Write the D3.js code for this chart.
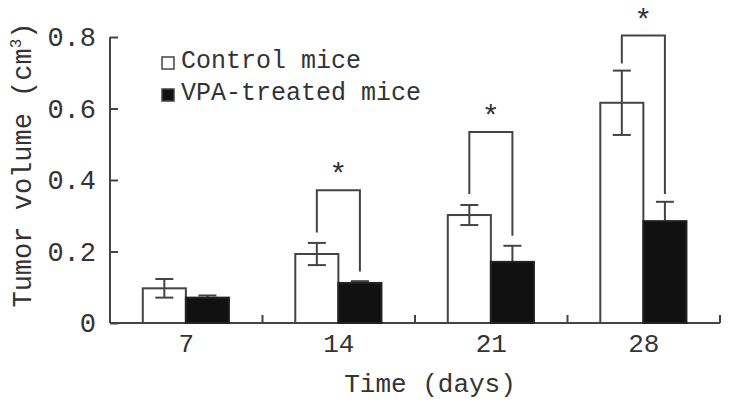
<!DOCTYPE html>
<html>
<head>
<meta charset="utf-8">
<script src="https://cdn.jsdelivr.net/npm/d3@7"></script>
<style>
  body { margin: 0; background: #fff; }
  text { font-family: "Liberation Mono", "DejaVu Sans Mono", monospace; fill: #333; }
</style>
</head>
<body>
<div id="chart"></div>
<script>
// chart values
var days = ["7", "14", "21", "28"];
var groups = ["Control mice", "VPA-treated mice"];
var controlMean = [0.097, 0.193, 0.302, 0.616];
var controlErr = [0.026, 0.031, 0.028, 0.090];
var vpaMean = [0.071, 0.112, 0.171, 0.285];
var vpaErr = [0.006, 0.005, 0.045, 0.054];
var yTicks = [0, 0.2, 0.4, 0.6, 0.8];
// significance brackets: [top, left leg end, right leg end]
var sigDays = ["14", "21", "28"];
var sigTop = [0.371, 0.534, 0.804];
var sigLeft = [0.253, 0.361, 0.726];
var sigRight = [0.144, 0.244, 0.361];

var width = 729, height = 406;
var padL = 110, padR = 720, padT = 37, padB = 323;

var svg = d3.select("#chart").append("svg")
  .attr("width", width)
  .attr("height", height);

var x = d3.scaleBand().domain(days).range([padL, padR]).padding(0);
var xs = d3.scaleBand().domain(groups)
  .range([x.bandwidth() * 0.215, x.bandwidth() * 0.78]).padding(0);
var y = d3.scaleLinear().domain([0, 0.8]).range([padB, padT]);

var axisColor = "#444";

// y axis
var yAxis = svg.append("g")
  .attr("transform", "translate(" + padL + ",0)")
  .call(d3.axisRight(y).tickValues(yTicks).tickSize(8).tickFormat(""));
yAxis.select(".domain").attr("d", "M0," + y(0.8) + "V" + y(0));
yAxis.selectAll("line, path").attr("stroke", axisColor).attr("stroke-width", 2);

svg.selectAll(".ytl")
  .data(yTicks)
  .enter().append("text")
  .attr("class", "ytl")
  .attr("x", padL - 14)
  .attr("y", function(d) { return y(d) + 9; })
  .attr("text-anchor", "end")
  .style("font-size", "27px")
  .text(function(d) { return d === 0 ? "0" : d.toFixed(1); });

// x axis line and boundary ticks
var bounds = days.map(function(d) { return x(d) + x.bandwidth(); });
svg.append("line")
  .attr("x1", padL).attr("x2", padR)
  .attr("y1", y(0)).attr("y2", y(0))
  .attr("stroke", axisColor).attr("stroke-width", 2);
svg.selectAll(".xtick")
  .data(bounds)
  .enter().append("line")
  .attr("x1", function(d) { return d; })
  .attr("x2", function(d) { return d; })
  .attr("y1", y(0)).attr("y2", y(0) - 8)
  .attr("stroke", axisColor).attr("stroke-width", 2);

svg.selectAll(".xtl")
  .data(days)
  .enter().append("text")
  .attr("x", function(d) { return x(d) + x.bandwidth() / 2; })
  .attr("y", 352)
  .attr("text-anchor", "middle")
  .style("font-size", "26px")
  .text(function(d) { return d; });

// bars
var rows = [];
days.forEach(function(d, i) {
  rows.push({ day: d, g: groups[0], v: controlMean[i], e: controlErr[i] });
  rows.push({ day: d, g: groups[1], v: vpaMean[i], e: vpaErr[i] });
});

var capW = 18;

// error bars (drawn first so VPA bar hides the lower half)
rows.forEach(function(r) {
  var cx = x(r.day) + xs(r.g) + xs.bandwidth() / 2;
  var lo = r.v - r.e, hi = r.v + r.e;
  var eg = svg.append("g").attr("stroke", axisColor).attr("stroke-width", 2);
  eg.append("line").attr("x1", cx).attr("x2", cx).attr("y1", y(lo)).attr("y2", y(hi));
  eg.append("line").attr("x1", cx - capW / 2).attr("x2", cx + capW / 2).attr("y1", y(hi)).attr("y2", y(hi));
  eg.append("line").attr("x1", cx - capW / 2).attr("x2", cx + capW / 2).attr("y1", y(lo)).attr("y2", y(lo));
});

svg.selectAll(".bar")
  .data(rows)
  .enter().append("rect")
  .attr("x", function(d) { return x(d.day) + xs(d.g); })
  .attr("y", function(d) { return y(d.v); })
  .attr("width", xs.bandwidth())
  .attr("height", function(d) { return y(0) - y(d.v); })
  .attr("fill", function(d) { return d.g === groups[0] ? "none" : "#111"; })
  .attr("stroke", function(d) { return d.g === groups[0] ? axisColor : "#222"; })
  .attr("stroke-width", 2);

// significance brackets
sigDays.forEach(function(d, i) {
  var lx = x(d) + xs(groups[0]) + xs.bandwidth() / 2;
  var rx = x(d) + xs(groups[1]) + xs.bandwidth() / 2;
  svg.append("path")
    .attr("d", "M" + lx + "," + y(sigLeft[i]) + "V" + y(sigTop[i]) + "H" + rx + "V" + y(sigRight[i]))
    .attr("fill", "none")
    .attr("stroke", axisColor)
    .attr("stroke-width", 2);
  svg.append("text")
    .attr("x", (lx + rx) / 2)
    .attr("y", y(sigTop[i]) - 6)
    .attr("text-anchor", "middle")
    .style("font-size", "30px")
    .text("*");
});

// legend
var legend = svg.selectAll(".legend")
  .data(groups)
  .enter().append("g")
  .attr("transform", function(d, i) { return "translate(161," + (56 + i * 32) + ")"; });
legend.append("rect")
  .attr("x", 1).attr("y", 1)
  .attr("width", 12).attr("height", 12)
  .attr("fill", function(d, i) { return i === 0 ? "#fff" : "#111"; })
  .attr("stroke", "#444")
  .attr("stroke-width", 1.5);
legend.append("text")
  .attr("x", 20)
  .attr("y", 12)
  .style("font-size", "25px")
  .text(function(d) { return d; });

// axis titles
svg.append("text")
  .attr("x", (padL + padR) / 2 + 15)
  .attr("y", 392)
  .attr("text-anchor", "middle")
  .style("font-size", "26px")
  .text("Time (days)");

var yl = svg.append("text")
  .attr("transform", "translate(31,165) rotate(-90)")
  .attr("text-anchor", "middle")
  .style("font-size", "27px");
yl.append("tspan").text("Tumor volume (cm");
yl.append("tspan").attr("dy", -10).style("font-size", "16px").text("3");
yl.append("tspan").attr("dy", 10).text(")");
</script>
</body>
</html>
